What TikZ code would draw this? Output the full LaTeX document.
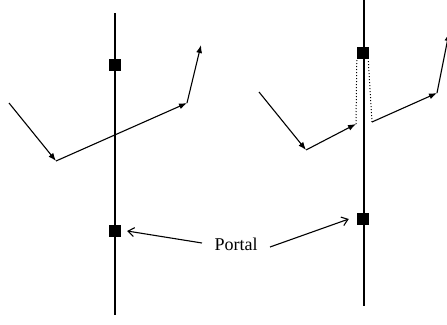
\documentclass[tikz,border=0pt]{standalone}
\usepackage{fontspec}
\setmainfont{Liberation Serif}
\usetikzlibrary{arrows.meta, positioning}

\begin{document}
\begin{tikzpicture}[x=1pt, y=-1pt,
  wall/.style={line width=1.6pt},
  portal/.style={draw=none, fill=black, minimum size=12pt, inner sep=0pt},
  ray/.style={-{Latex[length=8pt, width=6pt]}, line width=1.1pt},
  link/.style={dotted, line width=1pt},
  pointer/.style={-{Straight Barb[length=6pt, width=9pt]}, line width=1.1pt},
]
\useasboundingbox (0,0) rectangle (447,324);

% Left: wall with two portals, ray passes straight through
\coordinate (lw1) at (115,13);
\coordinate (lw2) at (115,315);
\draw[wall] (lw1) -- (lw2);
\node[portal] (pa) at (115,65) {};
\node[portal] (pb) at (115,231) {};

\coordinate (a0) at (9,103);
\coordinate (a1) at (56,161);
\coordinate (a2) at (187,103);
\coordinate (a3) at (201,45);
\draw[ray] (a0) -- (a1);
\draw[ray] (a1) -- (a2);
\draw[ray] (a2) -- (a3);

% Right: ray enters one portal, leaves from the other
\coordinate (rw1) at (364,0);
\coordinate (rw2) at (364,306);
\draw[wall] (rw1) -- (rw2);
\node[portal] (pc) at (363,53) {};
\node[portal] (pd) at (363,219) {};

\coordinate (b0) at (259,92);
\coordinate (b1) at (306,150);
\coordinate (b2) at (356,124);
\coordinate (b3) at (372,122);
\coordinate (b4) at (437,93);
\coordinate (b5) at (449,33);
\draw[ray] (b0) -- (b1);
\draw[ray] (b1) -- (b2);
\draw[link] (b2) -- (pc.south west);
\draw[link] (b3) -- ([xshift=-1pt]pc.south east);
\draw[ray] (b3) -- (b4);
\draw[ray] (b4) -- (b5);

% Label
\node[font=\fontsize{18}{21}\selectfont] (label) at (236,244) {Portal};
\draw[pointer] (label.west) ++(-9,-1) coordinate (l1) -- ([xshift=6pt]pb.east);
\draw[pointer] (label.east) ++(9,3) coordinate (l2) -- ([xshift=-8pt]pd.west);
\end{tikzpicture}
\end{document}
